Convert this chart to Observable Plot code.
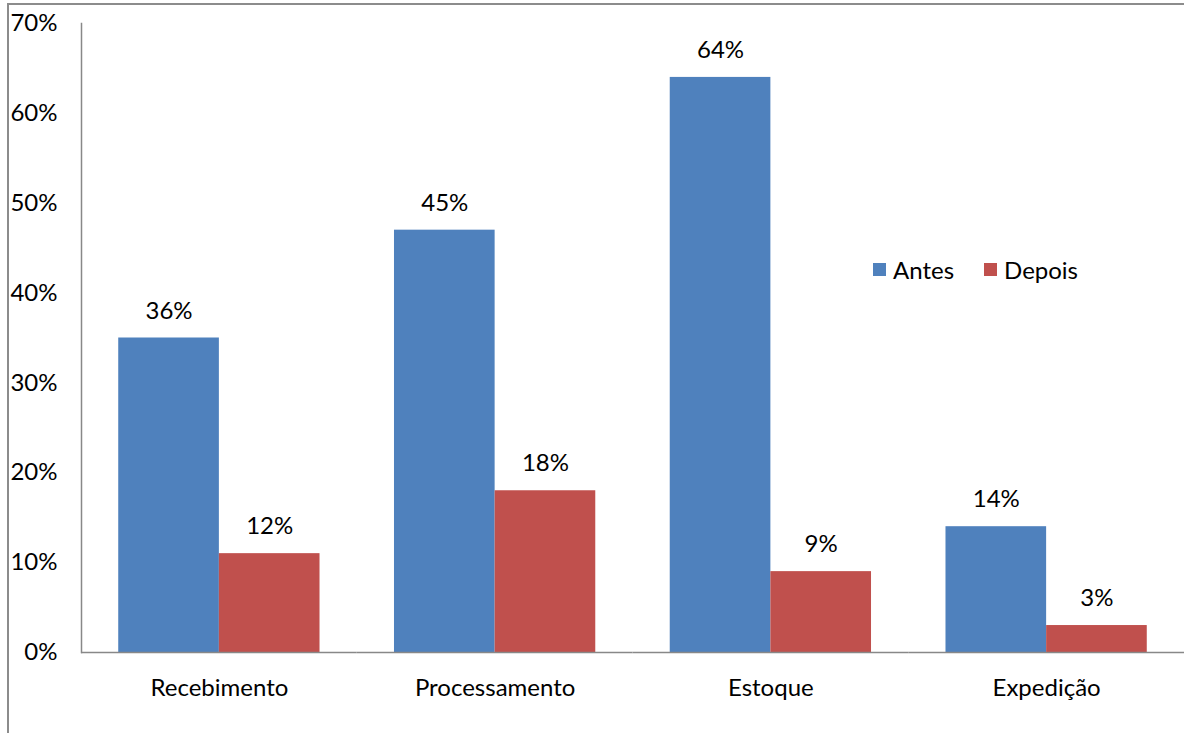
<!DOCTYPE html>
<html>
<head>
<meta charset="utf-8">
<script src="https://cdn.jsdelivr.net/npm/d3@7"></script>
<script src="https://cdn.jsdelivr.net/npm/@observablehq/plot@0.6"></script>
<style>
  html, body { margin: 0; padding: 0; background: #fff; }
  #wrap { position: relative; width: 1184px; height: 733px; font-family: Lato, "Open Sans", sans-serif; }
  #border { position: absolute; left: 7px; top: 3px; right: -2px; bottom: -2px; border-left: 2px solid #8c8c8c; border-top: 2px solid #8c8c8c; pointer-events: none; }
  #legend { position: absolute; left: 873px; top: 255px; display: flex; gap: 30px; font-size: 24px; color: #000; }
  #legend span.item { display: flex; align-items: center; gap: 7px; }
  #legend i { display: inline-block; width: 13px; height: 13px; }
</style>
</head>
<body>
<div id="wrap">
  <div id="chart"></div>
  <div id="legend"></div>
  <div id="border"></div>
</div>
<script>
const categories = ["Recebimento", "Processamento", "Estoque", "Expedição"];
const series = ["Antes", "Depois"];
const antesValues = [35, 47, 64, 14];
const depoisValues = [11, 18, 9, 3];
const antesLabels = ["36%", "45%", "64%", "14%"];
const depoisLabels = ["12%", "18%", "9%", "3%"];
const yTicks = [0, 10, 20, 30, 40, 50, 60, 70];
const colors = ["#4F81BD", "#C0504D"];

const data = [];
categories.forEach((c, i) => {
  data.push({category: c, series: "Antes", value: antesValues[i], label: antesLabels[i]});
  data.push({category: c, series: "Depois", value: depoisValues[i], label: depoisLabels[i]});
});

const chart = Plot.plot({
  width: 1184,
  height: 733,
  marginLeft: 81,
  marginRight: 0,
  marginTop: 23,
  marginBottom: 81,
  style: {fontFamily: "Lato, 'Open Sans', sans-serif", fontSize: "24px", color: "#000", background: "transparent"},
  fx: {domain: categories, padding: 0, round: false, label: null},
  x: {domain: series, paddingInner: 0, paddingOuter: 0.37, round: false, axis: null},
  y: {domain: [0, 70], label: null},
  color: {domain: series, range: colors},
  marks: [
    Plot.barY(data, {fx: "category", x: "series", y: "value", fill: "series"}),
    Plot.text(data, {fx: "category", x: "series", y: "value", text: "label", dy: -27, fill: "#000", fontSize: 24}),
    Plot.ruleY([0], {stroke: "#888", strokeWidth: 1.5}),
    Plot.frame({anchor: "left", facetAnchor: "left", stroke: "#888", strokeWidth: 1.5}),
    Plot.axisY({ticks: yTicks, tickSize: 0, tickPadding: 24, tickFormat: d => d + "%", label: null, fontSize: 24, anchor: "left"}),
    Plot.axisFx({anchor: "bottom", tickSize: 0, tickPadding: 26, label: null, fontSize: 24})
  ]
});
document.getElementById("chart").appendChild(chart);

const legend = document.getElementById("legend");
series.forEach((s, i) => {
  const item = document.createElement("span");
  item.className = "item";
  const sw = document.createElement("i");
  sw.style.background = colors[i];
  item.appendChild(sw);
  item.appendChild(document.createTextNode(s));
  legend.appendChild(item);
});
</script>
</body>
</html>
